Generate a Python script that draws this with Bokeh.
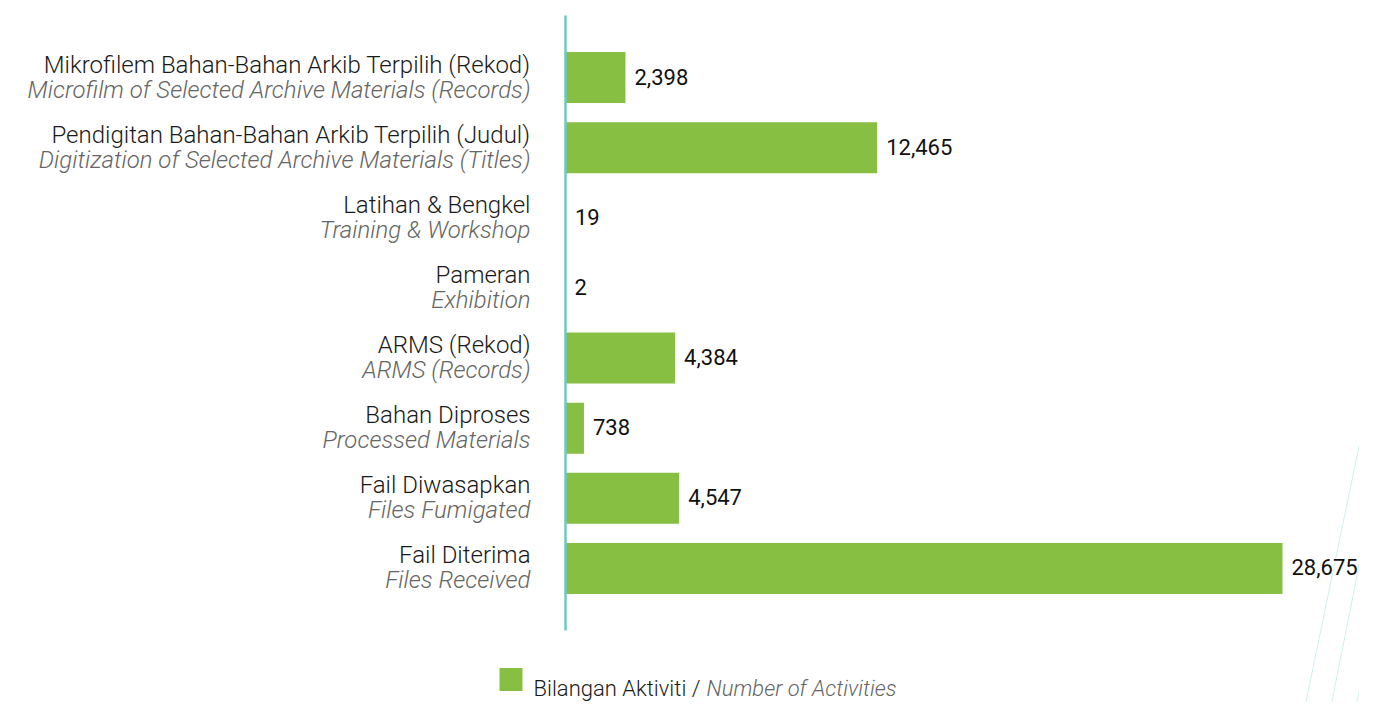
from bokeh.plotting import figure
from bokeh.models import Range1d, ColumnDataSource
from bokeh.core.properties import value
from bokeh.embed import file_html
from bokeh.resources import INLINE

# ---- data ----
labels_ms = [
    "Mikrofilem Bahan-Bahan Arkib Terpilih (Rekod)",
    "Pendigitan Bahan-Bahan Arkib Terpilih (Judul)",
    "Latihan & Bengkel",
    "Pameran",
    "ARMS (Rekod)",
    "Bahan Diproses",
    "Fail Diwasapkan",
    "Fail Diterima",
]
labels_en = [
    "Microfilm of Selected Archive Materials (Records)",
    "Digitization of Selected Archive Materials (Titles)",
    "Training & Workshop",
    "Exhibition",
    "ARMS (Records)",
    "Processed Materials",
    "Files Fumigated",
    "Files Received",
]
counts = [2398, 12465, 19, 2, 4384, 738, 4547, 28675]
legend_ms = "Bilangan Aktiviti / "
legend_en = "Number of Activities"

# ---- layout (pixel constants) ----
W, H = 1359, 702
X0 = 565                    # px of value 0
XS = (1282 - X0) / 28675.0  # px per unit
YS = 70.14                  # px per category
TOP_C = 77                  # px of first category centre
n = len(counts)
y_end = (n - 1) + TOP_C / YS
y_start = y_end - H / YS

def px_x(px):
    return (px - X0) / XS

def px_y(py):
    return y_end - py / YS

GREEN = "#86bf42"
TEAL = "#6ccac6"
FONT = value("Roboto Light")
FONT_N = value("Roboto")

yv = [n - 1 - i for i in range(n)]
src = ColumnDataSource(dict(
    y=yv, v=counts, ms=labels_ms, en=labels_en,
    txt=[f"{c:,}" for c in counts], zero=[0] * n,
))

p = figure(width=W, height=H, output_backend="svg", toolbar_location=None,
           x_range=Range1d(px_x(0), px_x(W)),
           y_range=Range1d(y_start, y_end),
           min_border=0, outline_line_color=None)
p.axis.visible = False
p.grid.visible = False

# decorative faint diagonal lines
p.segment(x0=[px_x(1378), px_x(1378), px_x(1378)],
          y0=[px_y(352), px_y(468), px_y(600)],
          x1=[px_x(1302), px_x(1328), px_x(1353)],
          y1=[px_y(718), px_y(718), px_y(718)],
          line_color="#d3eff1", line_width=1)

p.hbar(y="y", left="zero", right="v", height=51 / YS, source=src,
       fill_color=GREEN, line_color=None)

# axis line
p.segment(x0=[0], y0=[px_y(15)], x1=[0], y1=[px_y(630)],
          line_color=TEAL, line_width=2.5)

# category labels
p.text(x="zero", y="y", text="ms", source=src, x_offset=-35, y_offset=-13,
       text_align="right", text_baseline="alphabetic",
       text_font=FONT, text_font_size="24px", text_color="#1a1a1a")
p.text(x="zero", y="y", text="en", source=src, x_offset=-35, y_offset=12,
       text_align="right", text_baseline="alphabetic",
       text_font=FONT, text_font_size="24px", text_font_style="italic",
       text_color="#666666")

# value labels
p.text(x="v", y="y", text="txt", source=src, x_offset=9, y_offset=-1,
       text_align="left", text_baseline="middle",
       text_font=FONT_N, text_font_size="22px", text_color="#111111")

# legend
p.scatter(x=[px_x(510.5)], y=[px_y(679)], marker="square", size=23,
          fill_color=GREEN, line_color=None)
p.text(x=[px_x(533)], y=[px_y(688)], text=[legend_ms],
       text_align="left", text_baseline="alphabetic",
       text_font=FONT, text_font_size="22px", text_color="#1a1a1a")
p.text(x=[px_x(706)], y=[px_y(688)], text=[legend_en],
       text_align="left", text_baseline="alphabetic",
       text_font=FONT, text_font_size="22px", text_font_style="italic",
       text_color="#666666")

open("out.html", "w").write(file_html(p, INLINE))
